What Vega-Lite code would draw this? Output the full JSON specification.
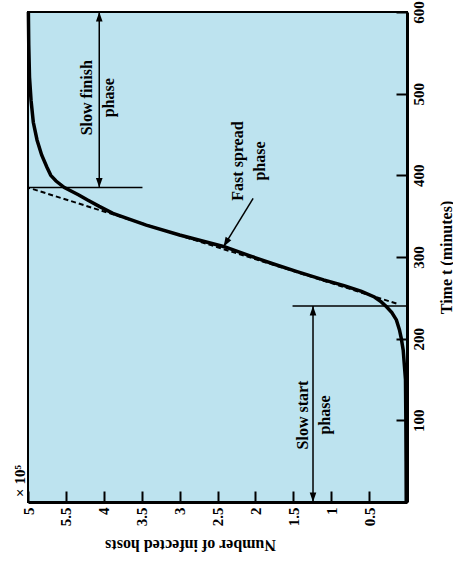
{
  "$schema": "https://vega.github.io/schema/vega-lite/v6.json",
  "width": 379,
  "height": 490,
  "autosize": {"type": "none"},
  "padding": {"left": 28, "top": 12, "right": 46, "bottom": 73},
  "background": "white",
  "datasets": {
    "curve": [
      {"t": 0, "hosts": 0.01}, {"t": 50, "hosts": 0.012}, {"t": 100, "hosts": 0.015},
      {"t": 150, "hosts": 0.02}, {"t": 186, "hosts": 0.05}, {"t": 200, "hosts": 0.075},
      {"t": 211, "hosts": 0.1}, {"t": 223, "hosts": 0.14}, {"t": 232, "hosts": 0.2},
      {"t": 239, "hosts": 0.27}, {"t": 245, "hosts": 0.34}, {"t": 251, "hosts": 0.43},
      {"t": 258, "hosts": 0.6}, {"t": 265, "hosts": 0.83}, {"t": 272, "hosts": 1.1},
      {"t": 282, "hosts": 1.45}, {"t": 292, "hosts": 1.78}, {"t": 302, "hosts": 2.09},
      {"t": 312.6, "hosts": 2.41}, {"t": 327, "hosts": 3.0}, {"t": 339, "hosts": 3.44},
      {"t": 353.5, "hosts": 3.88}, {"t": 362, "hosts": 4.06}, {"t": 370, "hosts": 4.22},
      {"t": 376, "hosts": 4.33}, {"t": 385, "hosts": 4.52}, {"t": 393, "hosts": 4.63},
      {"t": 400, "hosts": 4.7}, {"t": 410, "hosts": 4.75}, {"t": 425, "hosts": 4.82},
      {"t": 443, "hosts": 4.88}, {"t": 465, "hosts": 4.93}, {"t": 492, "hosts": 4.96},
      {"t": 520, "hosts": 4.98}, {"t": 560, "hosts": 4.99}, {"t": 600, "hosts": 4.995}
    ],
    "tangent": [
      {"t": 243, "hosts": 0.14}, {"t": 385, "hosts": 5.0}
    ],
    "segs": [
      {"name": "finish base", "t": 385, "t2": 385, "hosts": 5.0, "hosts2": 3.49},
      {"name": "start base", "t": 240, "t2": 240, "hosts": 1.51, "hosts2": 0},
      {"name": "finish arrow", "t": 385, "t2": 600, "hosts": 4.06, "hosts2": 4.06},
      {"name": "start arrow", "t": 0, "t2": 240, "hosts": 1.24, "hosts2": 1.24},
      {"name": "fast arrow", "t": 371.8, "t2": 312.6, "hosts": 2.03, "hosts2": 2.42}
    ],
    "heads": [
      {"t": 600, "hosts": 4.06, "dir": "up"},
      {"t": 385, "hosts": 4.06, "dir": "down"},
      {"t": 240, "hosts": 1.24, "dir": "up"},
      {"t": 0, "hosts": 1.24, "dir": "down"},
      {"t": 312.6, "hosts": 2.42, "dir": "diag"}
    ],
    "labels": [
      {"t": 495, "hosts": 4.07, "label": "Slow finish\nphase"},
      {"t": 417.5, "hosts": 2.08, "label": "Fast spread\nphase"},
      {"t": 106.5, "hosts": 1.225, "label": "Slow start\nphase"}
    ],
    "note": [
      {"t": 25.7, "hosts": 5.11, "label": "× 10⁵"}
    ]
  },
  "layer": [
    {
      "data": {"name": "curve"},
      "mark": {"type": "line", "strokeWidth": 3.5, "color": "black"},
      "encoding": {
        "x": {
          "field": "hosts", "type": "quantitative",
          "scale": {"domain": [0, 5], "reverse": true, "nice": false, "zero": false},
          "axis": {
            "title": "Number of infected hosts",
            "orient": "bottom",
            "values": [0.5, 1, 1.5, 2, 2.5, 3, 3.5, 4, 4.5, 5],
            "labelExpr": "datum.value == 4.5 ? '5.5' : '' + datum.value",
            "labelAngle": 270,
            "labelAlign": "right",
            "labelBaseline": "middle",
            "labelPadding": 16,
            "labelFlush": false,
            "tickSize": -11,
            "grid": false,
            "domainWidth": 3,
            "titleAngle": 180,
            "titleX": 162,
            "titleY": 37,
            "titleAlign": "center",
            "titleBaseline": "alphabetic"
          }
        },
        "y": {
          "field": "t", "type": "quantitative",
          "scale": {"domain": [0, 600], "nice": false, "zero": false},
          "axis": {
            "title": "Time t (minutes)",
            "orient": "right",
            "values": [100, 200, 300, 400, 500, 600],
            "labelAngle": 270,
            "labelAlign": "center",
            "labelBaseline": "alphabetic",
            "labelPadding": 27,
            "labelFlush": false,
            "tickSize": -11,
            "grid": false,
            "domainWidth": 3,
            "titleAngle": 270,
            "titleX": 44,
            "titleY": 245,
            "titleAlign": "center",
            "titleBaseline": "alphabetic"
          }
        },
        "order": {"field": "t", "type": "quantitative"}
      }
    },
    {
      "data": {"name": "tangent"},
      "mark": {"type": "line", "strokeWidth": 2, "strokeDash": [5, 3], "color": "black"},
      "encoding": {
        "x": {"field": "hosts", "type": "quantitative"},
        "y": {"field": "t", "type": "quantitative"},
        "order": {"field": "t", "type": "quantitative"}
      }
    },
    {
      "data": {"name": "segs"},
      "mark": {"type": "rule", "strokeWidth": 1.5, "color": "black"},
      "encoding": {
        "x": {"field": "hosts", "type": "quantitative"},
        "x2": {"field": "hosts2"},
        "y": {"field": "t", "type": "quantitative"},
        "y2": {"field": "t2"}
      }
    },
    {
      "data": {"name": "heads"},
      "transform": [{"filter": "datum.dir == 'up'"}],
      "mark": {"type": "point", "shape": "M0,0L-0.7,2L0.7,2Z", "filled": true, "size": 90, "color": "black", "opacity": 1, "strokeWidth": 0, "angle": 0},
      "encoding": {
        "x": {"field": "hosts", "type": "quantitative"},
        "y": {"field": "t", "type": "quantitative"}
      }
    },
    {
      "data": {"name": "heads"},
      "transform": [{"filter": "datum.dir == 'down'"}],
      "mark": {"type": "point", "shape": "M0,0L-0.7,2L0.7,2Z", "filled": true, "size": 90, "color": "black", "opacity": 1, "strokeWidth": 0, "angle": 180},
      "encoding": {
        "x": {"field": "hosts", "type": "quantitative"},
        "y": {"field": "t", "type": "quantitative"}
      }
    },
    {
      "data": {"name": "heads"},
      "transform": [{"filter": "datum.dir == 'diag'"}],
      "mark": {"type": "point", "shape": "M0,0L-0.7,2L0.7,2Z", "filled": true, "size": 90, "color": "black", "opacity": 1, "strokeWidth": 0, "angle": 211},
      "encoding": {
        "x": {"field": "hosts", "type": "quantitative"},
        "y": {"field": "t", "type": "quantitative"}
      }
    },
    {
      "data": {"name": "labels"},
      "mark": {"type": "text", "angle": 270, "font": "Liberation Serif", "fontWeight": "bold", "fontSize": 16, "lineBreak": "\n", "lineHeight": 22, "dy": -11, "align": "center", "baseline": "middle", "color": "black"},
      "encoding": {
        "x": {"field": "hosts", "type": "quantitative"},
        "y": {"field": "t", "type": "quantitative"},
        "text": {"field": "label"}
      }
    },
    {
      "data": {"name": "note"},
      "mark": {"type": "text", "angle": 270, "font": "Liberation Serif", "fontWeight": "bold", "fontSize": 15, "align": "center", "baseline": "middle", "color": "black"},
      "encoding": {
        "x": {"field": "hosts", "type": "quantitative"},
        "y": {"field": "t", "type": "quantitative"},
        "text": {"field": "label"}
      }
    }
  ],
  "config": {
    "view": {"fill": "#bde3ef", "stroke": "black", "strokeWidth": 2},
    "axis": {
      "labelFont": "Liberation Serif",
      "labelFontWeight": "bold",
      "labelFontSize": 15,
      "labelColor": "black",
      "titleFont": "Liberation Serif",
      "titleFontWeight": "bold",
      "titleFontSize": 16,
      "titleColor": "black",
      "tickColor": "black",
      "tickWidth": 2,
      "domainColor": "black"
    }
  }
}
